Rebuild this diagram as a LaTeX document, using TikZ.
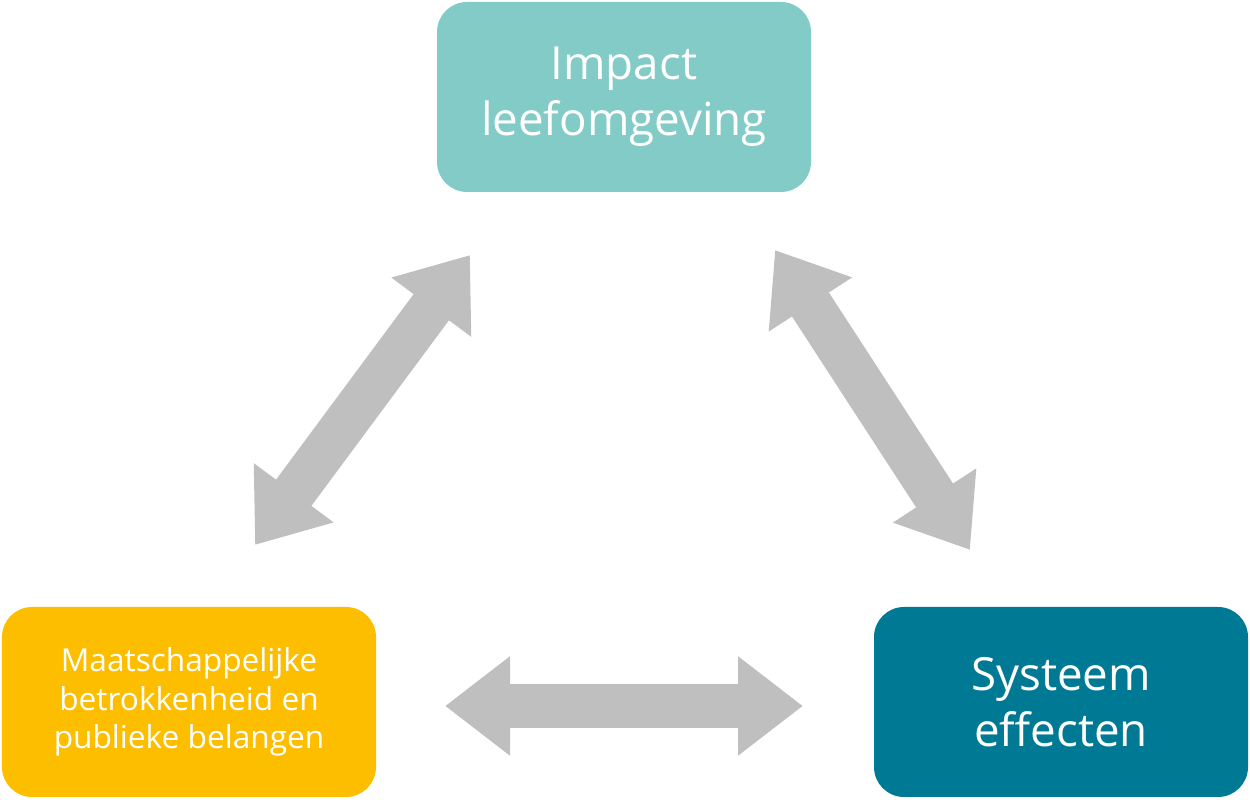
\documentclass[tikz,border=0pt]{standalone}
\usepackage{fontspec}
\setmainfont{Open Sans}
\usetikzlibrary{arrows.meta}
\definecolor{tealLight}{HTML}{82CBC6}
\definecolor{tealDark}{HTML}{007A94}
\definecolor{amber}{HTML}{FDBE00}
\definecolor{arrowGray}{HTML}{BFBFBF}
\begin{document}
\begin{tikzpicture}[
                    Box/.style={rounded corners=0.6cm, minimum width=7.48cm, minimum height=3.8cm, align=center, text=white, inner sep=0pt},
                    bigarrow/.style={{Triangle[length=1.3cm,width=1.9cm]}-{Triangle[length=1.3cm,width=1.9cm]}, line width=0.88cm, arrowGray}
                    ]
    \useasboundingbox (0,0) rectangle (25,16);

    % BOXES %
    \node[Box, fill=tealLight, font=\fontsize{26}{32}\selectfont] (Impact) at (12.48,14.06) {Impact\\leefomgeving};
    \node[Box, fill=amber, font=\fontsize{18}{22}\selectfont] (Maat) at (3.78,1.96) {Maatschappelijke\\betrokkenheid en\\publieke belangen};
    \node[Box, fill=tealDark, font=\fontsize{26}{32}\selectfont] (Sys) at (21.22,1.96) {Systeem\\effecten};

    % ARROW ENDS %
    \coordinate (LA) at (5.1,5.1);
    \coordinate (LB) at (9.4,10.9);
    \coordinate (RA) at (15.5,11.0);
    \coordinate (RB) at (19.4,5.0);
    \coordinate (BA) at (8.9,1.88);
    \coordinate (BB) at (16.06,1.88);

    \draw[bigarrow] (LA) -- (LB);
    \draw[bigarrow] (RA) -- (RB);
    \draw[bigarrow] (BA) -- (BB);
\end{tikzpicture}
\end{document}
